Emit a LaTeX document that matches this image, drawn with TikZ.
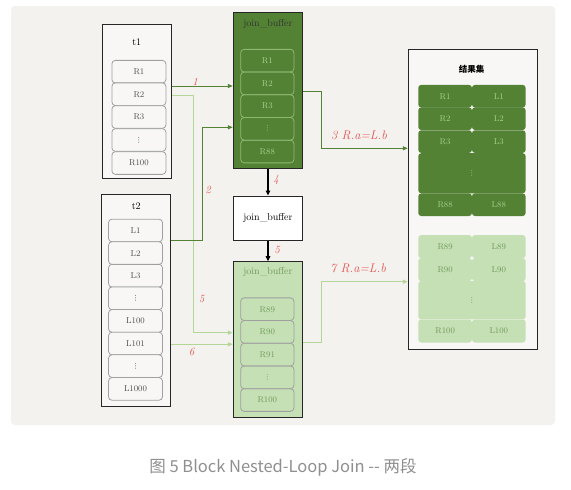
\documentclass[tikz,border=0pt]{standalone}
\usepackage{fontspec}
\newfontfamily\cjk{Noto Sans CJK SC}
\newfontfamily\djv{DejaVu Sans}
\usetikzlibrary{arrows.meta}
\definecolor{panel}{HTML}{F3F2EE}
\definecolor{dg}{HTML}{548235}
\definecolor{lg}{HTML}{C5E0B4}
\definecolor{lgline}{HTML}{B4D698}
\definecolor{dgrow}{HTML}{8DB872}
\definecolor{dgtxt}{HTML}{A9D18E}
\definecolor{lgtxt}{HTML}{6E9A5A}
\definecolor{rowline}{HTML}{A0A0A0}
\definecolor{lbl}{HTML}{E8504F}
\definecolor{cap}{HTML}{8F8F8F}
\newcommand{\vd}{{\djv\fontsize{7}{7}\selectfont ⋮}}
\tikzset{
  tbox/.style={draw=black!85,line width=1pt,fill=panel!60!white,minimum width=69pt,inner sep=0pt},
  trow/.style={draw=rowline,line width=0.8pt,rounded corners=3.5pt,fill=panel!60!white,minimum width=54pt,minimum height=22.7pt,inner sep=0pt,font=\fontsize{8.5}{9}\selectfont,text=black!70},
  jbone/.style={draw=black!85,line width=1pt,fill=dg,minimum width=69.4pt,minimum height=155.6pt,inner sep=0pt},
  jbrowd/.style={draw=dgrow,line width=0.8pt,rounded corners=3.5pt,minimum width=53.3pt,minimum height=22.7pt,inner sep=0pt,font=\fontsize{8.5}{9}\selectfont,text=dgtxt},
  jbtwo/.style={draw=black!85,line width=1pt,fill=lg,minimum width=69.4pt,minimum height=156pt,inner sep=0pt},
  jbrowl/.style={draw=rowline,line width=0.8pt,rounded corners=3.5pt,minimum width=53.3pt,minimum height=22.7pt,inner sep=0pt,font=\fontsize{8.5}{9}\selectfont,text=lgtxt},
  midbox/.style={draw=black!85,line width=1pt,fill=white,minimum width=69.4pt,minimum height=44pt,inner sep=0pt,font=\fontsize{10}{11}\selectfont},
  resbox/.style={draw=black!85,line width=1pt,fill=panel!60!white,minimum width=129pt,minimum height=300pt,inner sep=0pt},
  celld/.style={fill=dg,rounded corners=3pt,minimum width=53.7pt,inner sep=0pt,font=\fontsize{8.5}{9}\selectfont,text=dgtxt},
  celll/.style={fill=lg,rounded corners=3pt,minimum width=53.7pt,inner sep=0pt,font=\fontsize{8.5}{9}\selectfont,text=lgtxt},
  ttl/.style={font=\fontsize{10}{11}\selectfont,inner sep=1pt},
  lab/.style={text=lbl,font=\fontsize{11}{12}\selectfont\itshape,inner sep=1pt},
  labw/.style={text=lbl,font=\fontsize{12.5}{13}\selectfont\itshape,inner sep=1pt},
  dgarrow/.style={draw=dg,line width=1pt,-{Triangle[length=5pt,width=4pt]}},
  lgarrow/.style={draw=lgline,line width=1pt,-{Triangle[length=5pt,width=4pt]}},
  blkarrow/.style={draw=black,line width=1.2pt,-{Triangle[length=5pt,width=4.5pt]}},
}
\begin{document}
\begin{tikzpicture}[x=1pt,y=-1pt]
\useasboundingbox (0,0) rectangle (571,490);
\fill[white] (0,0) rectangle (571,490);
\fill[panel,rounded corners=4pt] (11,6) rectangle (555,425);

% t1
\node[tbox,minimum height=154pt] (t1) at (136.7,101) {};
\node[ttl] (t1t) at (136.7,42) {t1};
\foreach \n/\t/\y in {a/R1/71.7,b/R2/94.2,c/R3/117,d/\vd/140,e/R100/163}
  \node[trow] (t1\n) at (138.9,\y) {\t};

% t2
\node[tbox,minimum height=211.7pt] (t2) at (136.2,300.8) {};
\node[ttl] (t2t) at (136.2,206) {t2};
\foreach \n/\t/\y in {a/L1/230.5,b/L2/253.1,c/L3/275.7,d/\vd/298.3,e/L100/320.9,f/L101/343.5,g/\vd/366.1,h/L1000/388.9}
  \node[trow] (t2\n) at (135.5,\y) {\t};

% join_buffer 1
\node[jbone] (jb1) at (268,90.5) {};
\node[ttl,text=black!80] (jb1t) at (268,24) {join\_buffer};
\foreach \n/\t/\y in {a/R1/60.7,b/R2/83.4,c/R3/106.1,d/\vd/128.8,e/R88/151.5}
  \node[jbrowd] (jb1\n) at (267.3,\y) {\t};

% middle join_buffer
\node[midbox] (mid) at (268,218) {join\_buffer};

% join_buffer 2
\node[jbtwo] (jb2) at (268,339.7) {};
\node[ttl,text=lgtxt] (jb2t) at (268,272) {join\_buffer};
\foreach \n/\t/\y in {a/R89/309.2,b/R90/331.9,c/R91/354.6,d/\vd/377.3,e/R100/400.0}
  \node[jbrowl] (jb2\n) at (267.3,\y) {\t};

% result set
\node[resbox] (res) at (472.8,199.3) {};
\node[font=\cjk\bfseries\fontsize{8.5}{9}\selectfont] (rest) at (471.7,69) {结果集};
\foreach \n/\l/\r/\y in {a/R1/L1/96.2,b/R2/L2/118.7,c/R3/L3/141.6,e/R88/L88/204.7}{
  \node[celld,minimum height=22.6pt] (rl\n) at (445.1,\y) {\l};
  \node[celld,minimum height=22.6pt] (rr\n) at (498.8,\y) {\r};
}
\node[celld,minimum width=107.4pt,minimum height=40.1pt] (rd) at (471.95,173.25) {\vd};
\foreach \n/\l/\r/\y in {f/R89/L89/246.6,g/R90/L90/269.6,i/R100/L100/331}{
  \node[celll,minimum height=23pt] (rl\n) at (445.1,\y) {\l};
  \node[celll,minimum height=23pt] (rr\n) at (498.8,\y) {\r};
}
\node[celll,minimum width=107.4pt,minimum height=38.4pt] (rh) at (471.95,300.2) {\vd};

% helper coordinates
\coordinate (y86) at (0,86);
\coordinate (y95) at (0,95);
\coordinate (y240) at (0,240);
\coordinate (y127) at (0,127.3);
\coordinate (y92) at (0,91.7);
\coordinate (y148) at (0,148.3);
\coordinate (y333) at (0,332.7);
\coordinate (y344) at (0,344.3);
\coordinate (y343) at (0,342.7);
\coordinate (y282) at (0,281.7);
\coordinate (xa) at (193.3,0);
\coordinate (xb) at (202.7,0);
\coordinate (xc) at (321.7,0);

% connectors
\draw[dgarrow] (t1.east |- y86) -- (jb1.west |- y86);
\draw[lgarrow] (t1.east |- y95) -- (xa |- y95) -- (xa |- y333) -- (jb2.west |- y333);
\draw[dgarrow] (t2.east |- y240) -- (xb |- y240) -- (xb |- y127) -- (jb1.west |- y127);
\draw[dgarrow] (jb1.east |- y92) -- (xc |- y92) -- (xc |- y148) -- (res.west |- y148);
\draw[blkarrow] (jb1.south) -- (mid.north);
\draw[blkarrow] (mid.south) -- (jb2.north);
\draw[lgarrow] (t2.east |- y344) -- (jb2.west |- y344);
\draw[lgarrow] (jb2.east |- y343) -- (xc |- y343) -- (xc |- y282) -- (res.west |- y282);

% labels
\node[lab] (l1) at (195,81.5) {1};
\node[lab] (l2) at (208,190) {2};
\node[labw] (l3) at (359,135.7) {3 R.a=L.b};
\node[lab] (l4) at (276,180) {4};
\node[lab] (l5a) at (277,250) {5};
\node[lab] (l5b) at (201.7,299) {5};
\node[lab] (l6) at (191.7,352) {6};
\node[labw] (l7) at (358,268.3) {7 R.a=L.b};

% caption
\node[font=\cjk\fontsize{16.5}{18}\selectfont,text=cap] (caption) at (283,467) {图 5 Block Nested-Loop Join -- 两段};
\end{tikzpicture}
\end{document}
